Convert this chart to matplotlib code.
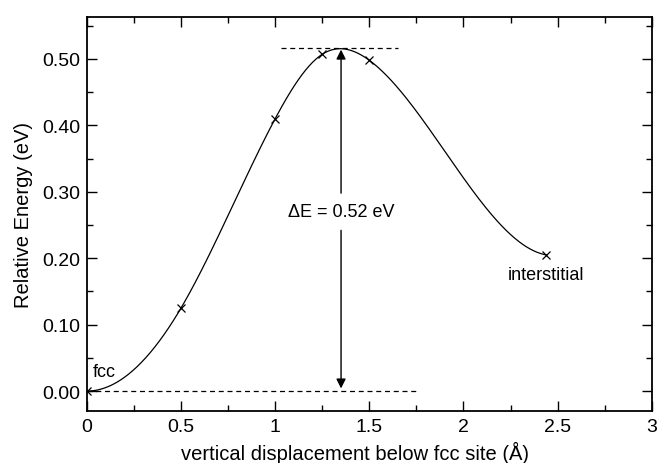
import matplotlib
matplotlib.use("Agg")
import matplotlib.pyplot as plt
from matplotlib.ticker import MultipleLocator, FormatStrFormatter
import numpy as np

plt.rcParams['font.family'] = ['Liberation Sans', 'DejaVu Sans']

# computed points along the path
disp = [0.0, 0.5, 1.0, 1.25, 1.5, 2.44]
energy = [0.0, 0.125, 0.41, 0.507, 0.498, 0.205]
barrier = 0.516
barrier_x = 1.35


# clamped cubic spline through the points (zero slope at fcc minimum)
def spline(x, y, xs, d0=0.0, dn=-0.05):
    x = np.asarray(x); y = np.asarray(y)
    n = len(x)
    h = np.diff(x)
    A = np.zeros((n, n)); b = np.zeros(n)
    A[0, 0] = 2 * h[0]; A[0, 1] = h[0]
    b[0] = 3 * ((y[1] - y[0]) / h[0] - d0)
    A[-1, -2] = h[-1]; A[-1, -1] = 2 * h[-1]
    b[-1] = 3 * (dn - (y[-1] - y[-2]) / h[-1])
    for i in range(1, n - 1):
        A[i, i - 1] = h[i - 1]
        A[i, i] = 2 * (h[i - 1] + h[i])
        A[i, i + 1] = h[i]
        b[i] = 3 * ((y[i + 1] - y[i]) / h[i] - (y[i] - y[i - 1]) / h[i - 1])
    c = np.linalg.solve(A, b)
    out = np.zeros_like(xs)
    for k, xv in enumerate(xs):
        i = min(np.searchsorted(x, xv, side='right') - 1, n - 2)
        i = max(i, 0)
        dx = xv - x[i]
        bb = (y[i + 1] - y[i]) / h[i] - h[i] * (2 * c[i] + c[i + 1]) / 3
        dd = (c[i + 1] - c[i]) / (3 * h[i])
        out[k] = y[i] + bb * dx + c[i] * dx ** 2 + dd * dx ** 3
    return out


fig = plt.figure(figsize=(6.63, 4.64), dpi=100)
ax = fig.add_axes([0.131, 0.112, 0.852, 0.849])

xs = np.linspace(disp[0], disp[-1], 400)
ax.plot(xs, spline(disp, energy, xs), color='black', lw=0.9)
ax.plot(disp, energy, 'x', color='black', ms=6, mew=0.9)

ax.plot([0, 1.75], [0, 0], '--', color='black', lw=0.9, dashes=(4, 3))
ax.plot([1.03, 1.65], [barrier, barrier], '--', color='black', lw=0.9, dashes=(4, 3))

arrow = dict(arrowstyle='-|>', color='black', lw=1.0, mutation_scale=14, shrinkA=0, shrinkB=0)
ax.annotate('', xy=(barrier_x, barrier - 0.002), xytext=(barrier_x, 0.298), arrowprops=arrow)
ax.annotate('', xy=(barrier_x, 0.004), xytext=(barrier_x, 0.242), arrowprops=arrow)
ax.text(barrier_x, 0.27, '\u0394E = 0.52 eV', ha='center', va='center', fontsize=13)

ax.text(0.03, 0.03, 'fcc', ha='left', va='center', fontsize=13)
ax.text(2.44, 0.176, 'interstitial', ha='center', va='center', fontsize=13)

ax.set_xlim(0, 3)
ax.set_ylim(-0.03, 0.563)
ax.xaxis.set_major_locator(MultipleLocator(0.5))
ax.xaxis.set_minor_locator(MultipleLocator(0.25))
ax.yaxis.set_major_locator(MultipleLocator(0.1))
ax.yaxis.set_minor_locator(MultipleLocator(0.05))
ax.yaxis.set_major_formatter(FormatStrFormatter('%.2f'))
ax.xaxis.set_major_formatter(matplotlib.ticker.FuncFormatter(lambda v, p: '%g' % v))
ax.tick_params(which='both', direction='in', top=True, right=True, labelsize=14, width=1.0)
ax.tick_params(which='major', length=7, pad=5)
ax.tick_params(which='minor', length=4)
for s in ax.spines.values():
    s.set_linewidth(1.3)

ax.set_xlabel('vertical displacement below fcc site (\u00c5)', fontsize=14.5)
ax.xaxis.set_label_coords(0.475, -0.075)
ax.set_ylabel('Relative Energy (eV)', fontsize=14.5, labelpad=6)

fig.savefig('out.png', dpi=100)
